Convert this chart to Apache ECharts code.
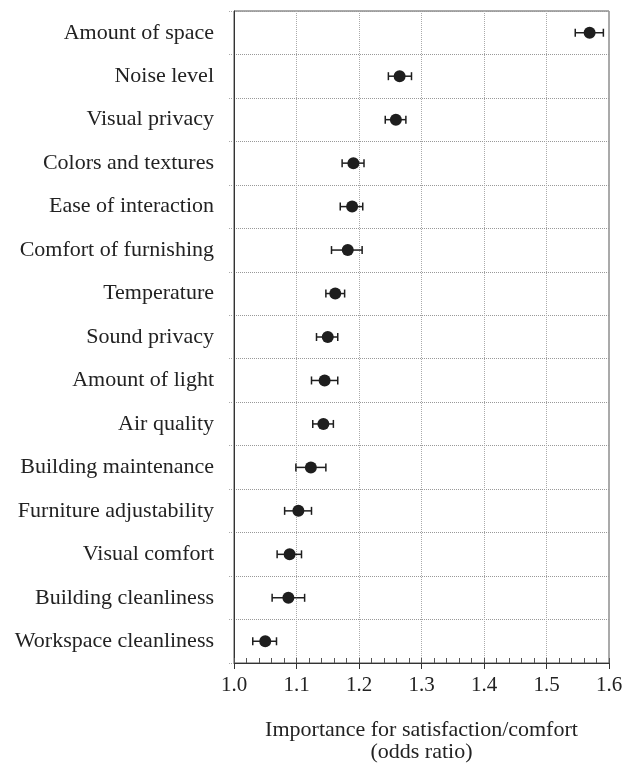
<!DOCTYPE html>
<html>
<head>
<meta charset="utf-8">
<script src="https://cdn.jsdelivr.net/npm/echarts@6/dist/echarts.min.js"></script>
<style>
  html, body { margin: 0; padding: 0; background: #fff; }
  #chart { width: 624px; height: 765px; }
</style>
</head>
<body>
<div id="chart"></div>
<script>
// Workplace attributes, top to bottom
const categories = [
  'Amount of space', 'Noise level', 'Visual privacy', 'Colors and textures',
  'Ease of interaction', 'Comfort of furnishing', 'Temperature', 'Sound privacy',
  'Amount of light', 'Air quality', 'Building maintenance', 'Furniture adjustability',
  'Visual comfort', 'Building cleanliness', 'Workspace cleanliness'
];
// Odds ratio estimates
const oddsRatio = [1.569, 1.265, 1.259, 1.191, 1.189, 1.182, 1.162, 1.150,
                   1.145, 1.143, 1.123, 1.103, 1.089, 1.087, 1.050];
// Lower and upper confidence limits
const ciLow  = [1.546, 1.247, 1.242, 1.173, 1.170, 1.156, 1.147, 1.132,
                1.124, 1.126, 1.099, 1.081, 1.069, 1.061, 1.030];
const ciHigh = [1.591, 1.284, 1.275, 1.208, 1.206, 1.205, 1.177, 1.166,
                1.166, 1.159, 1.147, 1.124, 1.108, 1.113, 1.068];
const xTicks = ['1.0', '1.1', '1.2', '1.3', '1.4', '1.5', '1.6'];

const serif = '"Liberation Serif", "Times New Roman", serif';
const ink = '#1e1e1e';

const chart = echarts.init(document.getElementById('chart'), null, { renderer: 'canvas' });

chart.setOption({
  animation: false,
  backgroundColor: '#fff',
  grid: {
    left: 234, right: 15, top: 11, bottom: 102,
    outerBoundsMode: 'none', containLabel: false,
    show: true, borderColor: '#555', borderWidth: 1, backgroundColor: 'transparent'
  },
  xAxis: [
    {
      type: 'value', min: 1.0, max: 1.6, interval: 0.1,
      name: 'Importance for satisfaction/comfort\n(odds ratio)',
      nameLocation: 'middle', nameGap: 56,
      nameTextStyle: { fontFamily: serif, fontSize: 22, color: '#222', lineHeight: 22, verticalAlign: 'top' },
      axisLine: { show: true, lineStyle: { color: '#333', width: 1 } },
      axisTick: { show: true, length: 6, lineStyle: { color: '#333' } },
      axisLabel: {
        fontFamily: serif, fontSize: 21, color: '#222', margin: 12,
        verticalAlign: 'top', lineHeight: 21,
        formatter: (v) => xTicks[Math.round((v - 1.0) * 10)] || ''
      },
      splitLine: { show: true, lineStyle: { color: '#aaa', type: [1, 1], width: 1 } }
    },
    {
      // minor ticks drawn on the inside of the bottom axis
      type: 'value', min: 1.0, max: 1.6, interval: 0.02, position: 'bottom',
      axisLine: { show: false },
      axisTick: { show: true, inside: true, length: 5, lineStyle: { color: '#555' } },
      axisLabel: { show: false },
      splitLine: { show: false }
    }
  ],
  yAxis: {
    type: 'category', data: categories, inverse: true,
    axisLine: { show: true, lineStyle: { color: '#333', width: 1 } },
    axisTick: { show: true, length: 6, lineStyle: { color: '#aaa', type: [1, 1] } },
    axisLabel: { fontFamily: serif, fontSize: 22, color: '#222', margin: 20, padding: [4, 0, 0, 0] },
    splitLine: { show: true, lineStyle: { color: '#999', type: [1, 1], width: 1 } }
  },
  series: [
    {
      type: 'custom',
      xAxisIndex: 0,
      data: categories.map((c, i) => [ciLow[i], ciHigh[i], i]),
      renderItem: (params, api) => {
        const lo = api.coord([api.value(0), api.value(2)]);
        const hi = api.coord([api.value(1), api.value(2)]);
        const cap = 4;
        const style = { stroke: ink, lineWidth: 1.5 };
        return {
          type: 'group',
          children: [
            { type: 'line', shape: { x1: lo[0], y1: lo[1], x2: hi[0], y2: hi[1] }, style },
            { type: 'line', shape: { x1: lo[0], y1: lo[1] - cap, x2: lo[0], y2: lo[1] + cap }, style },
            { type: 'line', shape: { x1: hi[0], y1: hi[1] - cap, x2: hi[0], y2: hi[1] + cap }, style }
          ]
        };
      },
      z: 2
    },
    {
      type: 'scatter',
      xAxisIndex: 0,
      data: oddsRatio.map((v, i) => [v, i]),
      symbol: 'circle', symbolSize: 12,
      itemStyle: { color: ink, opacity: 1 },
      z: 3
    }
  ]
});
</script>
</body>
</html>
